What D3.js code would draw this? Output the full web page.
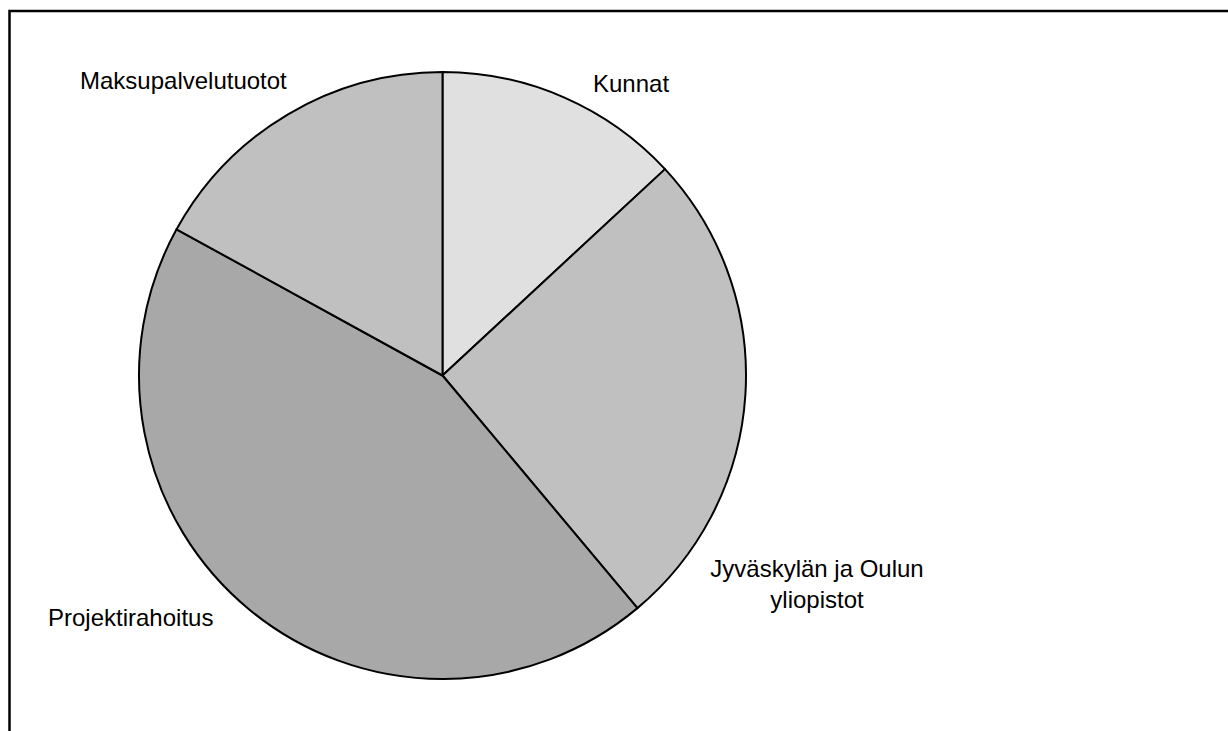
<!DOCTYPE html>
<html>
<head>
<meta charset="utf-8">
<script src="https://cdn.jsdelivr.net/npm/d3@7"></script>
<style>
  html, body { margin: 0; padding: 0; background: #fff; }
  svg { display: block; }
  text { font-family: "Liberation Sans", Arial, sans-serif; fill: #000; }
</style>
</head>
<body>
<svg id="chart" width="1228" height="731"></svg>
<script>
const categories = ["Kunnat", "Jyväskylän ja Oulun yliopistot", "Projektirahoitus", "Maksupalvelutuotot"];
const values = [13.1, 25.8, 44.1, 17.0];
const colors = ["#e0e0e0", "#c0c0c0", "#a8a8a8", "#c0c0c0"];
const labelLines = [["Kunnat"], ["Jyväskylän ja Oulun", "yliopistot"], ["Projektirahoitus"], ["Maksupalvelutuotot"]];

const svg = d3.select("#chart");
const W = 1228, H = 731;

// frame (extends beyond right/bottom edges)
svg.append("rect")
  .attr("x", 9.5).attr("y", 11)
  .attr("width", W + 20).attr("height", H + 20)
  .attr("fill", "none").attr("stroke", "#000").attr("stroke-width", 2.5);

const cx = 442.5, cy = 375.5, r = 303.5;
const data = categories.map((c, i) => ({ name: c, value: values[i], color: colors[i], lines: labelLines[i] }));

const pie = d3.pie().sort(null).value(d => d.value).startAngle(0).endAngle(2 * Math.PI);
const arc = d3.arc().innerRadius(0).outerRadius(r);
const arcs = pie(data);

const g = svg.append("g").attr("transform", `translate(${cx},${cy})`);
g.selectAll("path").data(arcs).join("path")
  .attr("d", arc)
  .attr("fill", d => d.data.color)
  .attr("stroke", "#000")
  .attr("stroke-width", 2)
  .attr("stroke-linejoin", "round");

// labels: placed outside the pie along each slice's mid-angle
const labelPos = [
  { anchor: "start", dx: 0, x: 593, y: 92 },
  { anchor: "middle", x: 817, y: 577 },
  { anchor: "start", x: 48, y: 626 },
  { anchor: "start", x: 80, y: 89 }
];
const lineH = 31;
arcs.forEach((a, i) => {
  const p = labelPos[i];
  const t = svg.append("text")
    .attr("text-anchor", p.anchor)
    .attr("font-size", 24);
  a.data.lines.forEach((ln, j) => {
    t.append("tspan").attr("x", p.x).attr("y", p.y + j * lineH).text(ln);
  });
});
</script>
</body>
</html>
